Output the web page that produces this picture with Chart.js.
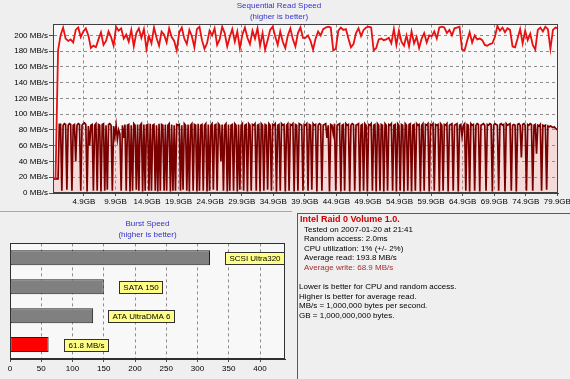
<!DOCTYPE html>
<html>
<head>
<meta charset="utf-8">
<script src="https://cdn.jsdelivr.net/npm/chart.js@4/dist/chart.umd.min.js"></script>
<style>
html,body{margin:0;padding:0;background:#efefef;width:570px;height:379px;overflow:hidden;font-family:"Liberation Sans",Arial,sans-serif;}
#top{position:absolute;left:0;top:0;}
#bot{position:absolute;left:0;top:213px;}
#sep{position:absolute;left:0;top:211px;width:292px;height:1px;background:#a8a8a8;}
#info{position:absolute;left:297px;top:213px;width:273px;height:166px;border-left:1px solid #5a5a5a;border-top:1px solid #5a5a5a;box-sizing:border-box;padding:1px 0 0 2px;font-size:8px;color:#000;}
#info div{height:9.6px;line-height:9.6px;white-space:nowrap;}
#info .t{font-size:9px;font-weight:bold;color:#d00000;}
#info .in{padding-left:4px;}
#info .w{color:#a03030;}
#info .out{margin-left:-1px;}
</style>
</head>
<body>
<canvas id="top" width="570" height="212"></canvas>
<div id="sep"></div>
<canvas id="bot" width="292" height="166"></canvas>
<div id="info">
  <div class="t">Intel Raid 0 Volume 1.0.</div>
  <div class="in">Tested on 2007-01-20 at 21:41</div>
  <div class="in">Random access: 2.0ms</div>
  <div class="in">CPU utilization: 1% (+/- 2%)</div>
  <div class="in">Average read: 193.8 MB/s</div>
  <div class="in w">Average write: 68.9 MB/s</div>
  <div></div>
  <div class="out">Lower is better for CPU and random access.</div>
  <div class="out">Higher is better for average read.</div>
  <div class="out">MB/s = 1,000,000 bytes per second.</div>
  <div class="out">GB = 1,000,000,000 bytes.</div>
</div>
<script>
// ---------------- DATA ----------------
// Sequential read speed (MB/s), one sample every 0.4 GB from 0 GB
const readStepGB = 0.4;
const readSpeed = [
  18,18,181,200,210,196,193,195,191,207,
  210,198,205,209,200,184,187,185,195,204,
  188,193,205,198,187,211,206,209,196,201,
  192,207,186,203,209,197,208,183,199,190,
  210,197,187,205,201,191,209,198,193,181,
  204,210,196,189,207,199,185,208,211,194,
  183,190,206,200,209,188,195,211,203,186,
  198,208,192,205,184,201,210,197,189,206,
  196,209,187,203,182,194,207,211,199,188,
  205,192,184,200,209,195,186,203,210,197,
  197,200,193,182,196,205,200,208,210,211,
  210,181,183,206,210,207,208,196,185,189,
  203,209,199,207,210,211,210,181,184,195,
  196,194,195,197,190,208,188,206,192,187,
  200,186,205,190,198,184,196,203,191,200,
  199,205,196,210,211,210,203,207,200,209,
  210,211,182,181,193,204,191,200,195,196,
  194,188,187,189,190,198,212,206,210,204,
  209,207,186,185,196,208,190,206,194,202,
  188,182,207,210,205,211,208,183,207,210,
  209
];
// Sequential write speed (MB/s), one sample every 0.2 GB from 0 GB
const writeStepGB = 0.2;
const writeSpeed = [
  18,18,18,18,18,87,87,3,86,88,87,4,86,88,87,3,86,87,40,86,
  88,87,3,86,88,89,87,2,85,60,86,87,3,86,88,3,87,86,2,87,
  88,3,86,4,87,88,86,3,85,72,86,68,80,75,3,86,70,87,3,86,
  87,2,86,3,88,86,4,87,3,86,88,2,87,3,86,87,3,88,3,86,
  87,3,86,2,88,3,87,86,3,87,3,86,88,2,87,3,86,3,87,86,
  87,3,86,4,88,86,3,87,2,86,88,3,87,86,2,88,3,86,87,3,
  86,88,2,87,3,86,88,4,86,87,3,88,86,40,87,3,86,88,2,87,
  3,86,87,3,88,86,2,87,4,86,88,3,86,87,2,88,86,3,87,86,
  88,3,86,87,2,88,86,3,87,86,4,88,86,3,87,86,88,2,86,87,
  3,88,86,87,2,86,88,3,87,86,88,2,87,86,3,88,87,86,3,87,
  86,88,3,87,86,4,88,86,87,2,86,88,87,3,86,87,88,70,86,2,
  87,86,75,88,3,86,87,88,2,86,87,3,88,86,87,2,86,88,87,3,
  86,87,88,2,86,87,3,88,86,2,87,86,88,3,86,87,2,88,86,3,
  87,86,2,88,86,3,87,86,88,3,86,87,2,88,86,3,87,86,2,88,
  86,3,87,88,2,86,87,3,88,86,87,2,86,88,3,87,86,88,2,87,
  86,88,3,87,86,87,2,88,86,3,87,86,88,2,86,87,88,3,86,87,
  88,2,86,87,72,86,88,3,87,86,2,88,86,87,3,86,88,87,2,86,
  87,88,86,3,87,86,88,87,2,86,88,87,86,3,87,88,86,87,2,88,
  86,87,88,3,86,87,86,2,87,88,86,45,87,88,86,3,87,86,88,87,
  3,86,87,50,86,85,87,3,86,85,86,4,85,84,85,84,83,84,82,81,
  80
];
const xTickValues = [4.9,9.9,14.9,19.9,24.9,29.9,34.9,39.9,44.9,49.9,54.9,59.9,64.9,69.9,74.9,79.9];
const xTickLabels = ['4.9GB','9.9GB','14.9GB','19.9GB','24.9GB','29.9GB','34.9GB','39.9GB','44.9GB','49.9GB','54.9GB','59.9GB','64.9GB','69.9GB','74.9GB','79.9GB'];
const yTickValues = [0,20,40,60,80,100,120,140,160,180,200];
const yTickLabels = ['0 MB/s','20 MB/s','40 MB/s','60 MB/s','80 MB/s','100 MB/s','120 MB/s','140 MB/s','160 MB/s','180 MB/s','200 MB/s'];

// Burst speed
const burstLabels = ['SCSI Ultra320','SATA 150','ATA UltraDMA 6','61.8 MB/s'];
const burstValues = [320,150,133,61.8];
const burstTickValues = [0,50,100,150,200,250,300,350,400];

// ---------------- RENDER ----------------
const FONT = '"Liberation Sans", Arial, sans-serif';
Chart.defaults.font.family = FONT;
Chart.defaults.font.size = 8;
Chart.defaults.color = '#000';

const plotBg = {
  id:'plotBg',
  beforeDraw(chart, args, opts){
    const {ctx, chartArea:a} = chart;
    ctx.save(); ctx.fillStyle = opts.color; ctx.fillRect(a.left, a.top, a.right-a.left, a.bottom-a.top); ctx.restore();
  },
  afterDraw(chart, args, opts){
    const {ctx, chartArea:a} = chart;
    ctx.save(); ctx.strokeStyle = opts.frame; ctx.lineWidth = 1;
    ctx.strokeRect(Math.round(a.left)+0.5, Math.round(a.top)+0.5, Math.round(a.right-a.left)-1, Math.round(a.bottom-a.top)-1);
    ctx.restore();
  }
};

const readPts = readSpeed.map((v,i)=>({x:+(i*readStepGB).toFixed(2), y:v}));
const writePts = writeSpeed.map((v,i)=>({x:+(i*writeStepGB).toFixed(2), y:v}));

new Chart(document.getElementById('top'), {
  type:'line',
  data:{datasets:[
    {label:'Read', data:readPts, borderColor:'#e81010', borderWidth:1.8, pointRadius:0, tension:0, fill:false},
    {label:'Write', data:writePts, borderColor:'#7a0000', borderWidth:1.7, pointRadius:0, tension:0, fill:'origin', backgroundColor:'rgba(238,140,140,0.28)'}
  ]},
  options:{
    responsive:false, animation:false, devicePixelRatio:1,
    layout:{padding:{left:0,right:12,top:0,bottom:0}},
    plugins:{
      legend:{display:false}, tooltip:{enabled:false},
      title:{display:true, text:['Sequential Read Speed','(higher is better)'], color:'#3333cc', font:{size:8, weight:'normal', lineHeight:1.4}, padding:{top:0,bottom:2}},
      plotBg:{color:'#f8f8f8', frame:'#404040'}
    },
    scales:{
      x:{type:'linear', min:0, max:80,
        afterBuildTicks:s=>{s.ticks = xTickValues.map(v=>({value:v}));},
        afterFit:s=>{s.height = 19; s.paddingLeft = 0; s.paddingRight = 0;},
        ticks:{callback:(v,i)=>xTickLabels[i], autoSkip:false, maxRotation:0, padding:1, color:'#000'},
        grid:{color:'#8c8c8c', lineWidth:1, tickLength:3, tickColor:'#505050', tickBorderDash:[]},
        border:{dash:[3,3], color:'#404040'}
      },
      y:{min:0, max:214,
        afterBuildTicks:s=>{s.ticks = yTickValues.map(v=>({value:v}));},
        afterFit:s=>{s.width = 53;},
        ticks:{callback:(v,i)=>yTickLabels[i], padding:1, color:'#000'},
        grid:{color:'#8c8c8c', lineWidth:1, tickLength:4, tickColor:'#505050', tickBorderDash:[]},
        border:{dash:[3,3], color:'#404040'}
      }
    }
  },
  plugins:[plotBg]
});

const barTags = {
  id:'barTags',
  afterDatasetsDraw(chart){
    const {ctx} = chart;
    const meta = chart.getDatasetMeta(0);
    ctx.save();
    ctx.font = '8px ' + FONT;
    ctx.textBaseline = 'middle';
    meta.data.forEach((bar,i)=>{
      const t = burstLabels[i];
      const w = Math.round(ctx.measureText(t).width + 8);
      const h = 12;
      const x0 = Math.round(bar.x + 15) + 0.5;
      const y0 = Math.round(bar.y - h/2) + 0.5;
      ctx.fillStyle = '#ffff88';
      ctx.fillRect(x0, y0, w, h);
      ctx.strokeStyle = '#303030'; ctx.lineWidth = 1;
      ctx.strokeRect(x0, y0, w, h);
      ctx.fillStyle = '#000';
      ctx.textAlign = 'center';
      ctx.fillText(t, x0 + w/2, y0 + h/2 + 0.5);
    });
    ctx.restore();
  }
};

new Chart(document.getElementById('bot'), {
  type:'bar',
  data:{labels:burstLabels, datasets:[{
    data:burstValues,
    backgroundColor:['#808080','#808080','#808080','#ff0000'],
    borderColor:'#202020', borderWidth:1, borderSkipped:false,
    categoryPercentage:1, barPercentage:0.52
  }]},
  options:{
    indexAxis:'y', responsive:false, animation:false, devicePixelRatio:1,
    layout:{padding:{left:10,right:7,top:0,bottom:0}},
    plugins:{
      legend:{display:false}, tooltip:{enabled:false},
      title:{display:true, text:['Burst Speed','(higher is better)'], color:'#3333cc', font:{size:8, weight:'normal', lineHeight:1.4}, padding:{top:5,bottom:3}},
      plotBg:{color:'#f8f8f8', frame:'#303030'}
    },
    scales:{
      x:{type:'linear', min:0, max:440,
        afterBuildTicks:s=>{s.ticks = burstTickValues.map(v=>({value:v}));},
        afterFit:s=>{s.height = 20; s.paddingLeft = 0; s.paddingRight = 0;},
        ticks:{autoSkip:false, maxRotation:0, padding:2, color:'#000'},
        grid:{color:'#8c8c8c', lineWidth:1, tickLength:3, tickColor:'#505050', tickBorderDash:[]},
        border:{dash:[3,3], color:'#303030'}
      },
      y:{display:false}
    }
  },
  plugins:[plotBg, barTags]
});
</script>
</body>
</html>
